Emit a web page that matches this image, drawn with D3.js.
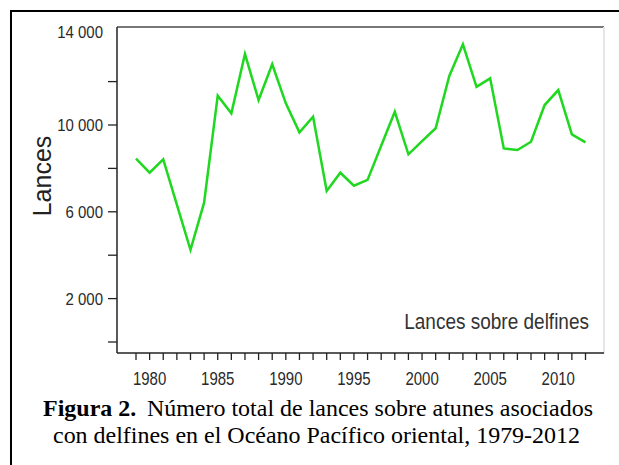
<!DOCTYPE html>
<html>
<head>
<meta charset="utf-8">
<script src="https://cdnjs.cloudflare.com/ajax/libs/d3/7.8.5/d3.min.js"></script>
<style>
  body { margin: 0; background: #fff; }
  svg { display: block; }
</style>
</head>
<body>
<div id="chart"></div>
<script>
// Lances sobre delfines, 1979-2012
const years = d3.range(1979, 2013);
const lances = [8450, 7800, 8420, 6330, 4250, 6420, 11350, 10540, 13270, 11150,
                12800, 11000, 9660, 10380, 6960, 7800, 7200, 7470, 9040, 10610,
                8650, 9260, 9850, 12260, 13720, 11760, 12150, 8920, 8850, 9230,
                10920, 11610, 9570, 9200];
const yMajor = [2000, 6000, 10000];
const yMinor = [0, 4000, 8000, 12000];
const yTopLabel = 14000;
const xLabels = [1980, 1985, 1990, 1995, 2000, 2005, 2010];

const width = 619, height = 465;
const svg = d3.select("#chart").append("svg")
    .attr("width", width)
    .attr("height", height);

// outer frame
svg.append("path")
    .attr("d", "M11,466 V11 H620")
    .attr("fill", "none")
    .attr("stroke", "#000")
    .attr("stroke-width", 2);

const plot = { left: 117, right: 604, top: 27, bottom: 353 };

const x = d3.scaleLinear().domain([1979, 2012]).range([136, 585.5]);
const y = d3.scaleLinear().domain([0, 10000]).range([342, 125]);

// plot frame: top and right
svg.append("line")
    .attr("x1", plot.left).attr("x2", plot.right)
    .attr("y1", plot.top).attr("y2", plot.top)
    .attr("stroke", "#777").attr("stroke-width", 2);
svg.append("line")
    .attr("x1", plot.right).attr("x2", plot.right)
    .attr("y1", plot.top).attr("y2", plot.bottom)
    .attr("stroke", "#e6e6e6").attr("stroke-width", 2);

const font = "'Liberation Sans', Arial, sans-serif";
const fmt = d => d3.format(",")(d).replace(",", " ");

// y axis
const yAxis = svg.append("g").attr("transform", `translate(${plot.left},0)`);
yAxis.append("line")
    .attr("y1", plot.top).attr("y2", plot.bottom)
    .attr("stroke", "#222").attr("stroke-width", 1.5);
yAxis.selectAll(".tick")
    .data(yMajor.concat(yMinor))
    .join("line")
    .attr("x1", -9).attr("x2", 0)
    .attr("y1", d => y(d)).attr("y2", d => y(d))
    .attr("stroke", "#222").attr("stroke-width", 1.3);
yAxis.selectAll(".lab")
    .data(yMajor)
    .join("text")
    .attr("transform", d => `translate(-14,${y(d) + 6}) scale(1,1.15)`)
    .attr("text-anchor", "end")
    .attr("font-family", font)
    .attr("font-size", 15)
    .attr("fill", "#2a2a2a")
    .text(fmt);
yAxis.append("text")
    .attr("transform", "translate(-14,38) scale(1,1.15)")
    .attr("text-anchor", "end")
    .attr("font-family", font)
    .attr("font-size", 15)
    .attr("fill", "#2a2a2a")
    .text(fmt(yTopLabel));

// x axis
const xAxis = svg.append("g").attr("transform", `translate(0,${plot.bottom})`);
xAxis.append("line")
    .attr("x1", plot.left).attr("x2", plot.right)
    .attr("stroke", "#222").attr("stroke-width", 1.5);
xAxis.selectAll(".tick")
    .data(years)
    .join("line")
    .attr("x1", d => x(d)).attr("x2", d => x(d))
    .attr("y1", 0).attr("y2", 7)
    .attr("stroke", "#222").attr("stroke-width", 1.3);
xAxis.selectAll(".lab")
    .data(xLabels)
    .join("text")
    .attr("transform", d => `translate(${x(d)},32) scale(1,1.2)`)
    .attr("text-anchor", "middle")
    .attr("font-family", font)
    .attr("font-size", 15)
    .attr("fill", "#2a2a2a")
    .text(d => d);

// axis title
svg.append("text")
    .attr("transform", "translate(51,176) rotate(-90)")
    .attr("text-anchor", "middle")
    .attr("font-family", font)
    .attr("font-size", 25)
    .attr("fill", "#222")
    .text("Lances");

// series
svg.append("path")
    .datum(years.map((yr, i) => [yr, lances[i]]))
    .attr("fill", "none")
    .attr("stroke", "#1fd81f")
    .attr("stroke-width", 2.5)
    .attr("stroke-linejoin", "miter")
    .attr("d", d3.line().x(d => x(d[0])).y(d => y(d[1])));

// series label
svg.append("text")
    .attr("transform", "translate(589,329) scale(1,1.15)")
    .attr("text-anchor", "end")
    .attr("font-family", font)
    .attr("font-size", 19)
    .attr("fill", "#333")
    .text("Lances sobre delfines");

// caption
const serif = "'Liberation Serif', 'Times New Roman', serif";
const cap1 = svg.append("text")
    .attr("x", 43).attr("y", 416)
    .attr("font-family", serif)
    .attr("font-size", 22.5)
    .attr("fill", "#000")
    .attr("textLength", 550)
    .attr("lengthAdjust", "spacingAndGlyphs");
cap1.append("tspan").attr("font-weight", "bold").text("Figura 2.");
cap1.append("tspan").attr("dx", 10).text("Número total de lances sobre atunes asociados");
svg.append("text")
    .attr("x", 53).attr("y", 443)
    .attr("font-family", serif)
    .attr("font-size", 22.5)
    .attr("fill", "#000")
    .attr("textLength", 527)
    .attr("lengthAdjust", "spacingAndGlyphs")
    .text("con delfines en el Océano Pacífico oriental, 1979-2012");
</script>
</body>
</html>
